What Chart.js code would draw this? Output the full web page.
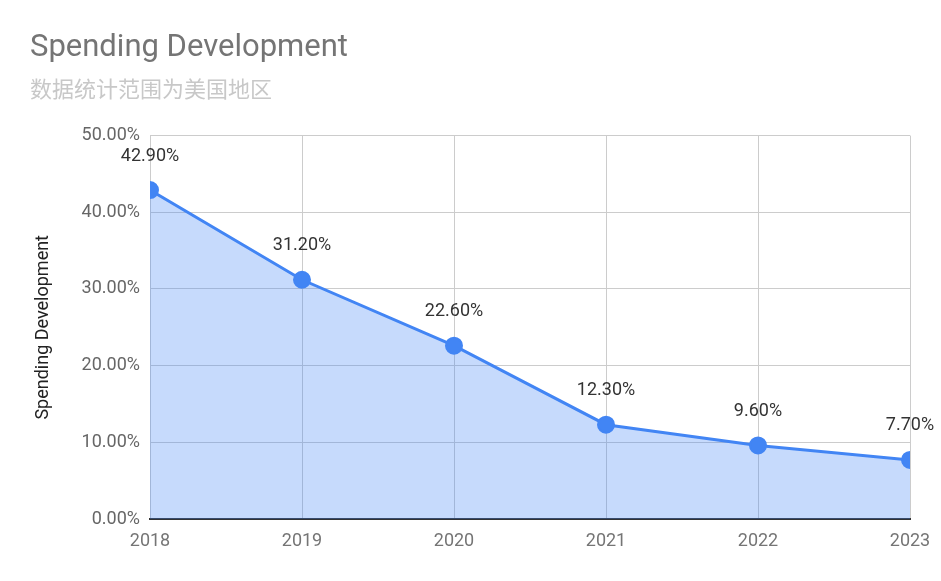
<!DOCTYPE html>
<html>
<head>
<meta charset="utf-8">
<script src="https://cdn.jsdelivr.net/npm/chart.js@4/dist/chart.umd.min.js"></script>
<style>
html,body{margin:0;padding:0;background:#fff;}
#wrap{width:941px;height:581px;position:relative;}
</style>
</head>
<body>
<div id="wrap"><canvas id="c" width="941" height="581"></canvas></div>
<script>
const categories = ['2018', '2019', '2020', '2021', '2022', '2023'];
const spendingValues = [42.9, 31.2, 22.6, 12.3, 9.6, 7.7];
const yTickValues = [0, 10, 20, 30, 40, 50];
const chartTitle = 'Spending Development';
const chartSubtitle = '数据统计范围为美国地区';
const yAxisTitle = 'Spending Development';

const FONT = 'Roboto, "Noto Sans CJK SC", sans-serif';

const dataLabelPlugin = {
  id: 'dataLabels',
  afterDatasetsDraw(chart) {
    const ctx = chart.ctx;
    const meta = chart.getDatasetMeta(0);
    ctx.save();
    ctx.font = '18px ' + FONT;
    ctx.fillStyle = '#333333';
    ctx.textAlign = 'center';
    ctx.textBaseline = 'middle';
    meta.data.forEach((pt, i) => {
      ctx.fillText(spendingValues[i].toFixed(2) + '%', pt.x, pt.y - 34);
    });
    ctx.restore();
  }
};

new Chart(document.getElementById('c'), {
  type: 'line',
  data: {
    labels: categories,
    datasets: [{
      data: spendingValues,
      borderColor: '#4285f4',
      borderWidth: 3,
      backgroundColor: 'rgba(66,133,244,0.3)',
      fill: 'origin',
      pointRadius: 8,
      pointBorderWidth: 2,
      pointBackgroundColor: '#4285f4',
      pointBorderColor: '#4285f4',
      tension: 0,
      clip: 0
    }]
  },
  plugins: [dataLabelPlugin],
  options: {
    responsive: false,
    animation: false,
    devicePixelRatio: 1,
    layout: { padding: { left: 30, right: 31, top: 0, bottom: 0 } },
    plugins: {
      legend: { display: false },
      tooltip: { enabled: false },
      title: {
        display: true,
        text: chartTitle,
        align: 'start',
        color: '#757575',
        font: { family: FONT, size: 31, weight: 'normal' },
        padding: { top: 30, bottom: 0 }
      },
      subtitle: {
        display: true,
        text: chartSubtitle,
        align: 'start',
        color: '#c8c8c8',
        font: { family: FONT, size: 22, weight: 'normal' },
        padding: { top: 11, bottom: 31 }
      }
    },
    scales: {
      x: {
        type: 'category',
        offset: false,
        grid: { color: '#cccccc', lineWidth: 1, drawTicks: false },
        border: { color: '#333333', width: 2 },
        ticks: { color: '#757575', font: { family: FONT, size: 18 }, padding: 12, maxRotation: 0 },
        afterFit(scale) { scale.height = 62; scale.paddingRight = 0; scale.paddingLeft = 0; }
      },
      y: {
        min: 0,
        max: 50,
        afterBuildTicks(scale) { scale.ticks = yTickValues.map(v => ({ value: v })); },
        grid: { color: '#cccccc', lineWidth: 1, drawTicks: false },
        border: { display: false },
        ticks: {
          color: '#666666',
          font: { family: FONT, size: 18 },
          padding: 10,
          callback: v => Number(v).toFixed(2) + '%'
        },
        title: {
          display: true,
          text: yAxisTitle,
          color: '#222222',
          font: { family: FONT, size: 18 },
          padding: { top: 3, bottom: 0 }
        },
        afterFit(scale) { scale.width = 120; scale.paddingTop = 0; scale.paddingBottom = 0; }
      }
    }
  }
});
</script>
</body>
</html>
